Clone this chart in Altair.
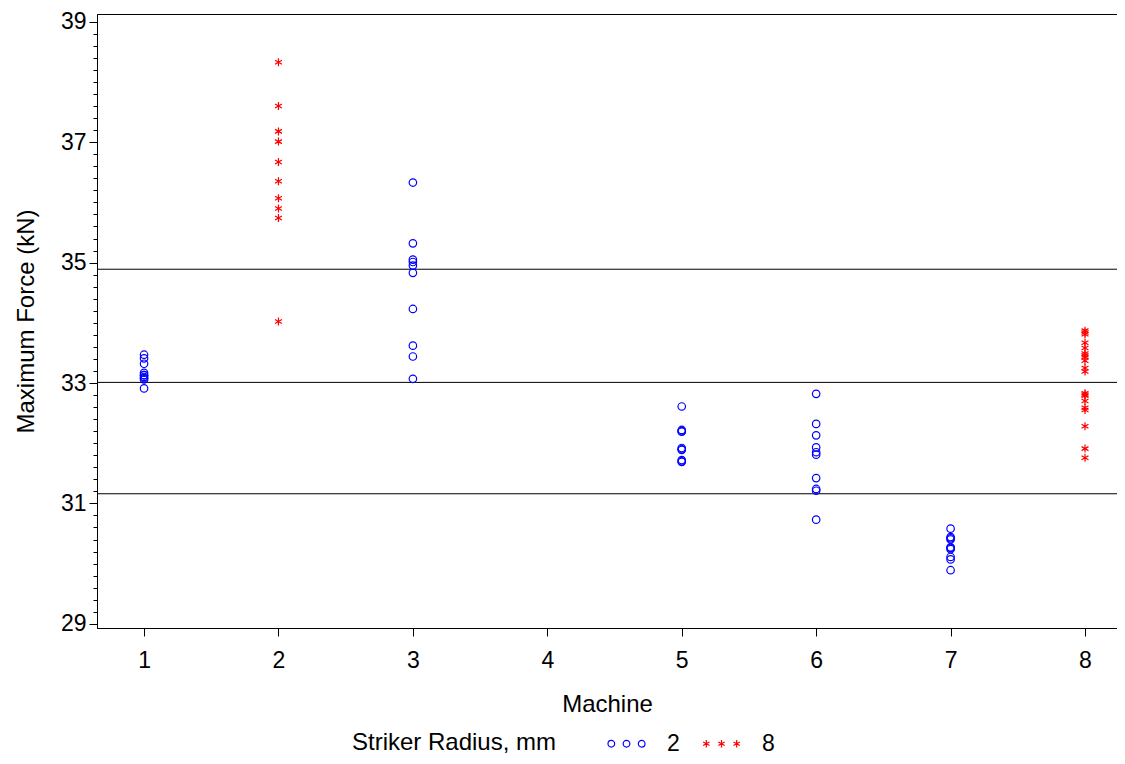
import altair as alt
import pandas as pd

# ---- data ----
x_ticks = [1, 2, 3, 4, 5, 6, 7, 8]
y_labels = [29, 31, 33, 35, 37, 39]
y_minor = [round(29 + 0.2 * i, 1) for i in range(51)]
ref_lines = [34.89, 33.01, 31.16]

m1 = [33.47, 33.41, 33.32, 33.17, 33.13, 33.13, 33.10, 33.08, 33.06, 32.91]
m2 = [38.33, 37.60, 37.18, 37.01, 36.67, 36.35, 36.07, 35.90, 35.74, 34.02]
m3 = [36.33, 35.32, 35.05, 35.01, 34.95, 34.83, 34.23, 33.62, 33.44, 33.07]
m5 = [32.61, 32.22, 32.20, 32.19, 31.92, 31.90, 31.89, 31.72, 31.70, 31.69]
m6 = [32.82, 32.32, 32.13, 31.93, 31.85, 31.81, 31.42, 31.24, 31.21, 30.73]
m7 = [30.58, 30.44, 30.42, 30.40, 30.27, 30.26, 30.24, 30.11, 30.07, 29.89]
m8 = [33.87, 33.84, 33.81, 33.67, 33.58, 33.49, 33.46, 33.43, 33.37, 33.25,
      33.19, 32.83, 32.81, 32.79, 32.70, 32.59, 32.55, 32.28, 31.91, 31.76]

r2_groups = {1: m1, 3: m3, 5: m5, 6: m6, 7: m7}
r8_groups = {2: m2, 8: m8}

rows2 = [{"machine": k, "force": v, "radius": "2"} for k, vals in r2_groups.items() for v in vals]
rows8 = [{"machine": k, "force": v, "radius": "8"} for k, vals in r8_groups.items() for v in vals]
df2 = pd.DataFrame(rows2)
df8 = pd.DataFrame(rows8)
df_ref = pd.DataFrame({"v": ref_lines})

FONT = "Liberation Sans"

# ---- symbols ----
STAR = "M0,-1L0,1M-0.866,-0.5L0.866,0.5M-0.866,0.5L0.866,-0.5"


def tri_circles(r=0.29, cs=(-1.32, 0.0, 1.32)):
    p = ""
    for c in cs:
        p += f"M{c - r:.3f},0A{r},{r} 0 1,0 {c + r:.3f},0A{r},{r} 0 1,0 {c - r:.3f},0Z"
    return p


def tri_stars(a=0.32, cs=(-1.32, 0.0, 1.32)):
    p = ""
    for c in cs:
        p += (f"M{c:.3f},{-a:.3f}L{c:.3f},{a:.3f}"
              f"M{c - 0.866 * a:.3f},{-0.5 * a:.3f}L{c + 0.866 * a:.3f},{0.5 * a:.3f}"
              f"M{c - 0.866 * a:.3f},{0.5 * a:.3f}L{c + 0.866 * a:.3f},{-0.5 * a:.3f}")
    return p


legend_shape_expr = f"datum.value == '2' ? '{tri_circles()}' : '{tri_stars()}'"

xscale = alt.Scale(domain=[0.65, 8.238], nice=False, zero=False)
yscale = alt.Scale(domain=[28.93, 39.13], nice=False, zero=False)

x_axis = alt.Axis(values=x_ticks, title="Machine", grid=False, tickSize=8,
                  labelPadding=13, titlePadding=20, labelFontSize=23,
                  titleFontSize=24, format="d")
y_major = alt.Axis(orient="left", values=y_labels, grid=False, tickSize=8,
                   labelPadding=3, labelFontSize=23, title="Maximum Force (kN)",
                   titleFontSize=24, titlePadding=22, format="d")
y_minor_axis = alt.Axis(orient="left", values=y_minor, grid=False, tickSize=4,
                        labels=False, domain=False, title=None)

legend = alt.Legend(
    title="Striker Radius, mm", orient="none", legendX=255, legendY=717,
    direction="horizontal", titleOrient="left", titleBaseline="middle",
    titleAnchor="middle", titleLimit=500,
    symbolType=alt.ExprRef(expr=legend_shape_expr), symbolSize=529,
    symbolStrokeWidth=1.2, labelFontSize=23, titleFontSize=24,
    titleFontWeight="normal", labelOffset=28, columnPadding=20,
    titlePadding=57, padding=0,
)
color = alt.Color("radius:N",
                  scale=alt.Scale(domain=["2", "8"], range=["#0000FF", "#FF0000"]),
                  legend=legend)

rules = alt.Chart(df_ref).mark_rule(color="black", strokeWidth=1).encode(
    y=alt.Y("v:Q", scale=yscale, axis=y_minor_axis)
)
circles = alt.Chart(df2).mark_point(shape="circle", size=56, filled=False,
                                     strokeWidth=1.2, opacity=1).encode(
    x=alt.X("machine:Q", scale=xscale, axis=x_axis),
    y=alt.Y("force:Q", scale=yscale, axis=y_major),
    color=color,
)
stars = alt.Chart(df8).mark_point(shape=STAR, size=64, filled=False,
                                   strokeWidth=1.2, opacity=1).encode(
    x=alt.X("machine:Q", scale=xscale, axis=x_axis),
    y=alt.Y("force:Q", scale=yscale, axis=None),
    color=color,
)

chart = alt.layer(rules, circles, stars).resolve_axis(y="independent").properties(
    width=1020, height=614,
    autosize=alt.AutoSizeParams(type="none"),
    padding={"left": 89, "top": 6, "right": 0, "bottom": 128},
).configure(font=FONT).configure_view(
    stroke="black", strokeWidth=1
).configure_axis(
    labelFont=FONT, titleFont=FONT, labelColor="black", titleColor="black",
    tickColor="black", domainColor="black", titleFontWeight="normal",
    tickWidth=1, domainWidth=1,
).configure_legend(labelFont=FONT, titleFont=FONT, labelColor="black",
                   titleColor="black")

chart.save("out.html", embed_options={"renderer": "svg", "actions": False})
